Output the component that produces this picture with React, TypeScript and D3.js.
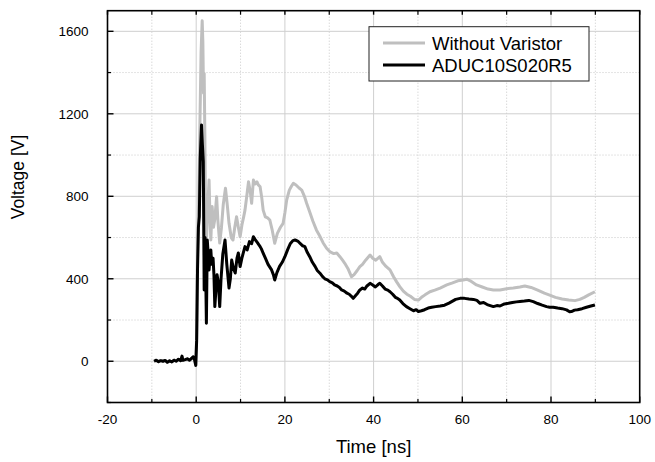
import React from "react";
import * as d3 from "d3";

const xTicksMajor = [-20, 0, 20, 40, 60, 80, 100];
const xTicksMinor = [-10, 10, 30, 50, 70, 90];
const yTicksMajor = [0, 400, 800, 1200, 1600];
const yTicksMinor = [-200, 200, 600, 1000, 1400];
const seriesNames = ["Without Varistor", "ADUC10S020R5"];
const seriesColors = ["#bfbfbf", "#000000"];

const withoutVaristor: [number, number][] = [
  [-9.5, 0], [-9, 4], [-8.5, -2], [-8, 3], [-7.5, 0], [-7, 4], [-6.5, -5], [-6, 2], [-5.5, -3], [-5, 5],
  [-4.5, 0], [-4, 9], [-3.5, 3], [-3.2, 22], [-3, 5], [-2.5, 8], [-2, 12], [-1.5, 5], [-1, 14], [-0.7, 20],
  [-0.4, 10], [-0.1, -15], [0.1, 120], [0.3, 500], [0.5, 700], [0.8, 1100], [1.1, 1500], [1.35, 1651],
  [1.5, 1550], [1.65, 1300], [1.8, 1396], [1.95, 1100], [2.1, 700], [2.35, 604], [2.6, 750], [2.9, 879],
  [3.1, 700], [3.3, 588], [3.6, 750], [3.9, 650], [4.2, 690], [4.6, 798], [4.9, 680], [5.3, 573], [5.7, 650],
  [6.1, 760], [6.6, 839], [7.0, 760], [7.4, 669], [7.9, 600], [8.3, 588], [8.7, 650], [9.1, 701], [9.5, 650],
  [9.9, 604], [10.3, 660], [10.7, 700], [11, 733], [11.4, 800], [11.8, 871], [12.2, 820], [12.5, 766],
  [12.9, 879], [13.3, 860], [13.7, 870], [14.0, 855], [14.4, 847], [14.8, 790], [15.1, 733], [15.6, 700],
  [16.1, 695], [16.6, 685], [17.1, 640], [17.7, 572], [18.3, 620], [19, 650], [19.6, 669], [20, 720],
  [20.4, 782], [21, 830], [21.5, 850], [21.9, 863], [22.5, 855], [23.2, 840], [23.8, 830], [24.4, 800],
  [24.9, 766], [25.5, 730], [26.3, 680], [27.1, 637], [27.8, 610], [28.6, 575], [29.4, 548], [30.2, 530],
  [31, 522], [31.7, 525], [32.4, 507], [33, 490], [33.5, 475], [34.2, 450], [35, 410], [35.6, 420],
  [36.3, 440], [36.9, 459], [37.5, 470], [38.2, 490], [39.2, 515], [39.8, 500], [40.5, 490], [41.4, 507],
  [42, 480], [42.8, 460], [43.7, 443], [44.5, 410], [45.2, 385], [45.9, 362], [46.7, 340], [47.5, 325],
  [48.3, 315], [49.2, 300], [50.1, 297], [50.8, 310], [51.6, 322], [52.7, 337], [53.8, 345], [55, 355],
  [56.5, 370], [57.8, 380], [59, 390], [60.2, 394], [61, 398], [61.8, 390], [63.2, 370], [64.5, 360],
  [65.8, 350], [67, 346], [68.5, 346], [70, 352], [71.5, 355], [73, 360], [74.1, 365], [75.5, 358],
  [77, 345], [78.5, 330], [79.7, 321], [81, 310], [82.5, 302], [84, 297], [85.4, 294], [86.5, 300],
  [87.5, 310], [88.5, 322], [89.9, 337],
];

const aduc: [number, number][] = [
  [-9.5, 0], [-9, 5], [-8.5, -2], [-8, 3], [-7.5, 0], [-7, 4], [-6.5, -5], [-6, 2], [-5.5, -3], [-5, 5],
  [-4.5, 0], [-4, 10], [-3.5, 3], [-3.2, 25], [-3, 5], [-2.5, 8], [-2, 12], [-1.5, 5], [-1, 15], [-0.7, 22],
  [-0.4, 10], [-0.1, -20], [0.1, 100], [0.3, 450], [0.5, 650], [0.7, 700], [0.9, 980], [1.2, 1146],
  [1.4, 1050], [1.6, 968], [1.8, 346], [2.0, 600], [2.1, 500], [2.3, 184], [2.5, 588], [2.7, 520],
  [2.9, 443], [3.1, 500], [3.3, 540], [3.5, 470], [3.8, 500], [4.0, 420], [4.2, 265], [4.4, 330],
  [4.7, 420], [5.0, 380], [5.3, 265], [5.6, 400], [6.0, 520], [6.5, 588], [6.9, 470], [7.4, 355],
  [7.7, 400], [8.0, 491], [8.4, 450], [8.8, 428], [9.2, 500], [9.5, 525], [9.9, 459], [10.3, 500],
  [10.6, 524], [11.0, 556], [11.5, 540], [12, 580], [12.5, 570], [12.9, 604], [13.3, 590], [13.8, 575],
  [14.3, 560], [14.7, 545], [15.1, 524], [15.6, 500], [16.2, 470], [17, 443], [17.4, 420], [17.7, 394],
  [18.2, 430], [18.8, 460], [19.4, 480], [20, 507], [20.6, 540], [21.2, 570], [21.8, 585], [22.3, 588],
  [22.9, 583], [23.5, 570], [24.0, 560], [24.5, 556], [25.0, 530], [25.6, 507], [26.2, 480], [26.8, 460],
  [27.3, 440], [27.9, 427], [28.5, 410], [29, 400], [29.6, 395], [30.1, 386], [30.7, 380], [31.2, 370],
  [31.8, 365], [32.3, 358], [32.8, 346], [33.4, 340], [34, 330], [34.5, 325], [35, 315], [35.4, 305],
  [35.9, 318], [36.4, 330], [36.9, 346], [37.5, 355], [38, 350], [38.5, 365], [39.2, 378], [39.8, 370],
  [40.4, 360], [41, 372], [41.4, 378], [42, 365], [42.6, 350], [43.2, 345], [43.7, 337], [44.3, 325],
  [44.9, 310], [45.4, 305], [45.9, 297], [46.6, 280], [47.4, 265], [48.2, 255], [49, 245], [49.6, 250],
  [50.1, 241], [50.8, 245], [51.5, 250], [52.3, 258], [53.1, 262], [54, 265], [55, 268], [56, 272],
  [57, 282], [57.6, 289], [58.5, 300], [59.5, 305], [60.5, 305], [61.5, 302], [62.5, 300], [63.3, 295],
  [64, 281], [64.8, 285], [65.6, 275], [66.3, 270], [67, 265], [67.8, 270], [68.5, 268], [69.5, 278],
  [70.4, 281], [71.3, 285], [72.2, 288], [73, 290], [74, 292], [75, 295], [76, 289], [77, 280], [78, 272],
  [79, 265], [79.7, 262], [80.5, 262], [81.5, 258], [82.5, 255], [83.5, 249], [84.2, 240], [84.6, 241],
  [85.3, 248], [86, 250], [87, 255], [88, 262], [89, 268], [89.9, 273],
];

const W = 655;
const H = 462;
const L = 107.5, R = 639.7, T = 10.7, B = 402.5;

export default function App() {
  const x = d3.scaleLinear().domain([-20, 100]).range([L, R]);
  const y = d3.scaleLinear().domain([-200, 1700]).range([B, T]);
  const line = d3.line<[number, number]>().x((d) => x(d[0])).y((d) => y(d[1]));
  const font = "'Liberation Sans', Arial, sans-serif";
  const series = [withoutVaristor, aduc];

  return (
    <svg width={W} height={H} style={{ position: "absolute", left: 0, top: 0, background: "#fff" }} fontFamily={font}>
      {xTicksMinor.map((t) => (
        <line key={"xm" + t} x1={x(t)} x2={x(t)} y1={T} y2={B} stroke="#c8c8c8" strokeWidth={1} strokeDasharray="1,2" />
      ))}
      {yTicksMinor.map((t) => (
        <line key={"ym" + t} x1={L} x2={R} y1={y(t)} y2={y(t)} stroke="#c8c8c8" strokeWidth={1} strokeDasharray="1,2" />
      ))}
      {xTicksMajor.slice(1, -1).map((t) => (
        <line key={"xg" + t} x1={x(t)} x2={x(t)} y1={T} y2={B} stroke="#cfcfcf" strokeWidth={1} />
      ))}
      {yTicksMajor.map((t) => (
        <line key={"yg" + t} x1={L} x2={R} y1={y(t)} y2={y(t)} stroke="#cfcfcf" strokeWidth={1} />
      ))}
      {series.map((s, i) => (
        <path key={"s" + i} d={line(s) || ""} fill="none" stroke={seriesColors[i]} strokeWidth={3} strokeLinejoin="round" />
      ))}
      <rect x={L} y={T} width={R - L} height={B - T} fill="none" stroke="#000" strokeWidth={1.6} />
      {xTicksMajor.map((t) => (
        <g key={"xt" + t}>
          <line x1={x(t)} x2={x(t)} y1={B} y2={B - 6} stroke="#000" strokeWidth={1.4} />
          <line x1={x(t)} x2={x(t)} y1={T} y2={T + 4} stroke="#000" strokeWidth={1.4} />
          <text x={x(t)} y={424} textAnchor="middle" fontSize={13.5} fill="#000">{t}</text>
        </g>
      ))}
      {xTicksMinor.map((t) => (
        <g key={"xtm" + t}>
          <line x1={x(t)} x2={x(t)} y1={B} y2={B - 3.5} stroke="#000" strokeWidth={1.2} />
          <line x1={x(t)} x2={x(t)} y1={T} y2={T + 4} stroke="#000" strokeWidth={1.2} />
        </g>
      ))}
      {yTicksMajor.map((t) => (
        <g key={"yt" + t}>
          <line x1={L} x2={L + 6} y1={y(t)} y2={y(t)} stroke="#000" strokeWidth={1.4} />
          <text x={88.5} y={y(t) + 4.8} textAnchor="end" fontSize={13.5} fill="#000">{t}</text>
        </g>
      ))}
      {yTicksMinor.map((t) => (
        <line key={"ytm" + t} x1={L} x2={L + 3.5} y1={y(t)} y2={y(t)} stroke="#000" strokeWidth={1.2} />
      ))}
      <text x={(L + R) / 2} y={452.5} textAnchor="middle" fontSize={18.5} fill="#000">Time [ns]</text>
      <text transform="translate(23.5,177) rotate(-90)" textAnchor="middle" fontSize={17.5} fill="#000">Voltage [V]</text>
      <rect x={369} y={26.7} width={220} height={54.3} fill="#fff" stroke="#222" strokeWidth={1} />
      {seriesNames.map((n, i) => (
        <g key={"lg" + i}>
          <line x1={383} x2={425} y1={43 + i * 22} y2={43 + i * 22} stroke={seriesColors[i]} strokeWidth={3} />
          <text x={432} y={43 + i * 22 + 6.5} fontSize={18.5} fill="#000">{n}</text>
        </g>
      ))}
    </svg>
  );
}
